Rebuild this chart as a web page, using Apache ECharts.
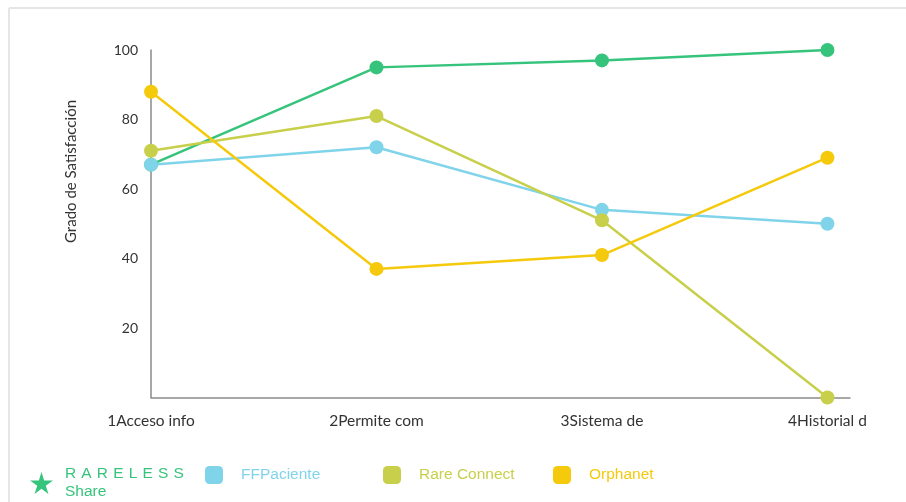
<!DOCTYPE html>
<html><head><meta charset="utf-8">
<script src="https://cdn.jsdelivr.net/npm/echarts@6/dist/echarts.min.js"></script>
<style>html,body{margin:0;padding:0;background:#fff}#c{width:906px;height:502px}</style>
</head><body><div id="c"></div>
<script>
const categories = ['1Acceso info', '2Permite com', '3Sistema de', '4Historial d'];
const yTicks = [20, 40, 60, 80, 100];
const seriesNames = ['R\u2004A\u2004R\u2004E\u2004L\u2004E\u2004S\u2004S\nShare', 'FFPaciente', 'Rare Connect', 'Orphanet'];
const rarelessShare = [67, 95, 97, 100];
const ffPaciente = [67, 72, 54, 50];
const rareConnect = [71, 81, 51, 0];
const orphanet = [88, 37, 41, 69];
const colors = ['#36c47c', '#80d4ea', '#c8cf4a', '#f5c90c'];

const values = [rarelessShare, ffPaciente, rareConnect, orphanet];
const chart = echarts.init(document.getElementById('c'));
const starPath = 'path://M50,0 L61,35 L98,35 L68,57 L79,91 L50,70 L21,91 L32,57 L2,35 L39,35 Z';
const legendLefts = [30, 205, 383, 553];
const legends = seriesNames.map((n, i) => ({
  left: legendLefts[i], top: i === 0 ? 465 : 466, orient: 'horizontal', padding: 0,
  data: [{name: n, icon: i === 0 ? starPath : 'roundRect'}],
  itemWidth: i === 0 ? 23 : 18, itemHeight: i === 0 ? 22 : 18,
  textStyle: {color: colors[i], fontFamily: 'Liberation Sans', fontSize: 15.5,
    lineHeight: 18, padding: [0, 0, 0, i === 0 ? 7 : 13]},
  selectedMode: false
}));
chart.setOption({
  animation: false,
  color: colors,
  grid: {left: 151, top: 50, right: 56, bottom: 104.5},
  legend: legends,
  xAxis: {
    type: 'value', min: 0, max: 3.1, interval: 1,
    axisLine: {show: true, lineStyle: {color: '#8a8a8a', width: 1.5}},
    axisTick: {show: false}, splitLine: {show: false},
    axisLabel: {margin: 15, color: '#333', fontFamily: 'Lato', fontSize: 15.5,
      formatter: v => (Number.isInteger(v) && categories[v] !== undefined) ? categories[v] : ''}
  },
  yAxis: {
    type: 'value', min: 0, max: 100, interval: 20,
    axisLine: {show: true, lineStyle: {color: '#8a8a8a', width: 1.5}},
    axisTick: {show: false}, splitLine: {show: false},
    axisLabel: {margin: 13, color: '#333', fontFamily: 'Lato', fontSize: 14,
      formatter: v => yTicks.includes(v) ? String(v) : ''}
  },
  graphic: [
    {type: 'text', left: 64, top: 100, rotation: Math.PI / 2,
      style: {text: 'Grado de Satisfacción', fill: '#333', font: '15px Lato'}},
    {type: 'line', shape: {x1: 9, y1: 8, x2: 906, y2: 8}, style: {stroke: '#e6e6e6', lineWidth: 2}},
    {type: 'line', shape: {x1: 9, y1: 8, x2: 9, y2: 502}, style: {stroke: '#e6e6e6', lineWidth: 2}}
  ],
  series: seriesNames.map((n, i) => ({
    name: n, type: 'line', symbol: 'circle', symbolSize: 14,
    lineStyle: {width: 2.5, color: colors[i]}, itemStyle: {color: colors[i]},
    data: values[i].map((v, k) => [k, v])
  }))
});
</script></body></html>
